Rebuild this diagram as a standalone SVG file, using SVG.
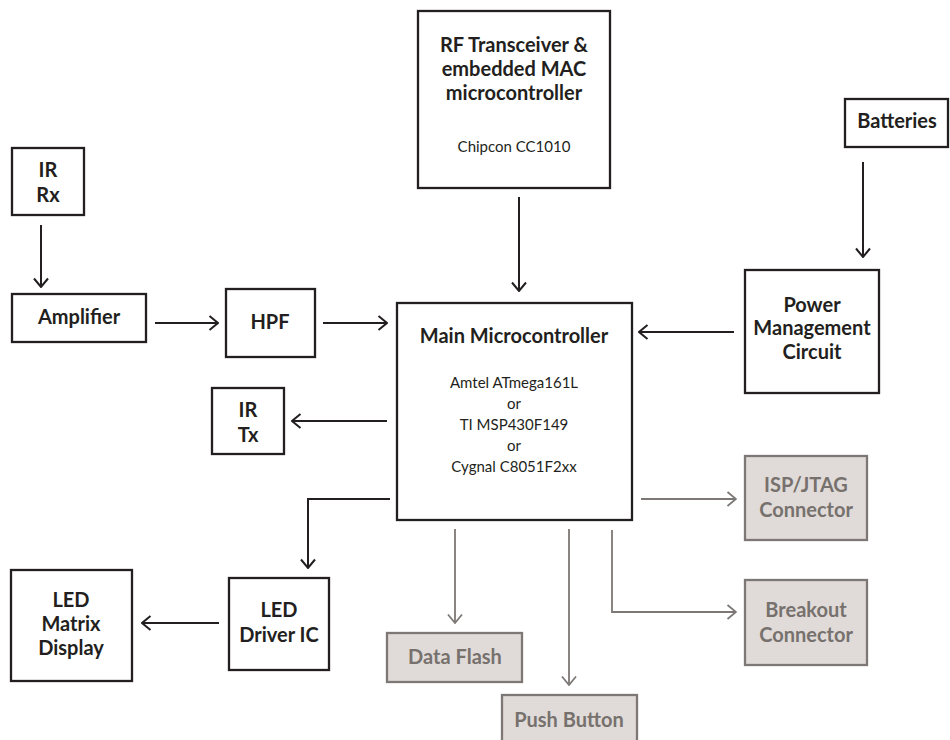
<svg xmlns="http://www.w3.org/2000/svg" width="950" height="740" viewBox="0 0 950 740">
<defs>
<style>
.box{fill:#ffffff;stroke:#231f20;stroke-width:2.3}
.gbox{fill:#e0dbd8;stroke:#7d7875;stroke-width:2.3}
.t{font-family:Lato,"Liberation Sans",sans-serif;font-weight:bold;font-size:20px;fill:#231f20;text-anchor:middle}
.gt{font-family:Lato,"Liberation Sans",sans-serif;font-weight:bold;font-size:20px;fill:#77716e;text-anchor:middle}
.s{font-family:Lato,"Liberation Sans",sans-serif;font-size:15px;fill:#231f20;text-anchor:middle}
.c{fill:none;stroke:#231f20;stroke-width:2;marker-end:url(#a)}
.gc{fill:none;stroke:#7d7875;stroke-width:1.8;marker-end:url(#g)}
</style>
<marker id="a" viewBox="0 0 11 16" refX="10" refY="8" markerWidth="11" markerHeight="16" orient="auto" markerUnits="userSpaceOnUse"><path d="M1.5,1 L10,8 L1.5,15" fill="none" stroke="#231f20" stroke-width="2"/></marker>
<marker id="g" viewBox="0 0 11 16" refX="10" refY="8" markerWidth="11" markerHeight="16" orient="auto" markerUnits="userSpaceOnUse"><path d="M1.5,1 L10,8 L1.5,15" fill="none" stroke="#7d7875" stroke-width="1.8"/></marker>
</defs>
<rect width="950" height="740" fill="#ffffff"/>
<g id="connectors">
<path class="c" d="M41,225 V287"/>
<path class="c" d="M155,323 H218"/>
<path class="c" d="M323,323 H387"/>
<path class="c" d="M519,197 V291"/>
<path class="c" d="M863,162 V257"/>
<path class="c" d="M734,332 H639"/>
<path class="c" d="M387,421 H292"/>
<path class="c" d="M390,499 H308 V568"/>
<path class="c" d="M219,623 H142"/>
<path class="gc" d="M641,499 H736"/>
<path class="gc" d="M612,530 V612 H736"/>
<path class="gc" d="M455,529 V623"/>
<path class="gc" d="M569,529 V685"/>
</g>
<g id="ir-rx"><rect class="box" x="12" y="148" width="72" height="67"/><text class="t" x="48" y="177">IR</text><text class="t" x="48" y="202">Rx</text></g>
<g id="amplifier"><rect class="box" x="12" y="294" width="134" height="48"/><text class="t" x="79" y="324">Amplifier</text></g>
<g id="hpf"><rect class="box" x="226" y="289" width="89" height="68"/><text class="t" x="270" y="329">HPF</text></g>
<g id="rf"><rect class="box" x="418" y="11" width="192" height="177"/><text class="t" x="514" y="52">RF Transceiver &amp;</text><text class="t" x="514" y="76">embedded MAC</text><text class="t" x="514" y="100">microcontroller</text><text class="s" x="514" y="152">Chipcon CC1010</text></g>
<g id="batteries"><rect class="box" x="845" y="99" width="103" height="48"/><text class="t" x="897" y="128">Batteries</text></g>
<g id="power"><rect class="box" x="745" y="270" width="134" height="123"/><text class="t" x="812" y="312">Power</text><text class="t" x="812" y="335">Management</text><text class="t" x="812" y="359">Circuit</text></g>
<g id="main"><rect class="box" x="397" y="303" width="235" height="217"/><text class="t" x="514" y="343">Main Microcontroller</text><text class="s" x="514" y="388">Amtel ATmega161L</text><text class="s" x="514" y="409">or</text><text class="s" x="514" y="430">TI MSP430F149</text><text class="s" x="514" y="451">or</text><text class="s" x="514" y="472">Cygnal C8051F2xx</text></g>
<g id="ir-tx"><rect class="box" x="212" y="388" width="72" height="66"/><text class="t" x="248" y="417">IR</text><text class="t" x="248" y="442">Tx</text></g>
<g id="led-driver"><rect class="box" x="229" y="578" width="100" height="92"/><text class="t" x="279" y="617">LED</text><text class="t" x="279" y="642">Driver IC</text></g>
<g id="led-matrix"><rect class="box" x="11" y="570" width="121" height="111"/><text class="t" x="71" y="607">LED</text><text class="t" x="71" y="631">Matrix</text><text class="t" x="71" y="655">Display</text></g>
<g id="isp-jtag"><rect class="gbox" x="745" y="456" width="122" height="84"/><text class="gt" x="806" y="492">ISP/JTAG</text><text class="gt" x="806" y="517">Connector</text></g>
<g id="breakout"><rect class="gbox" x="745" y="580" width="122" height="85"/><text class="gt" x="806" y="617">Breakout</text><text class="gt" x="806" y="642">Connector</text></g>
<g id="data-flash"><rect class="gbox" x="387" y="633" width="135" height="49"/><text class="gt" x="455" y="664">Data Flash</text></g>
<g id="push-button"><rect class="gbox" x="502" y="695" width="135" height="52"/><text class="gt" x="569" y="727">Push Button</text></g>
</svg>
